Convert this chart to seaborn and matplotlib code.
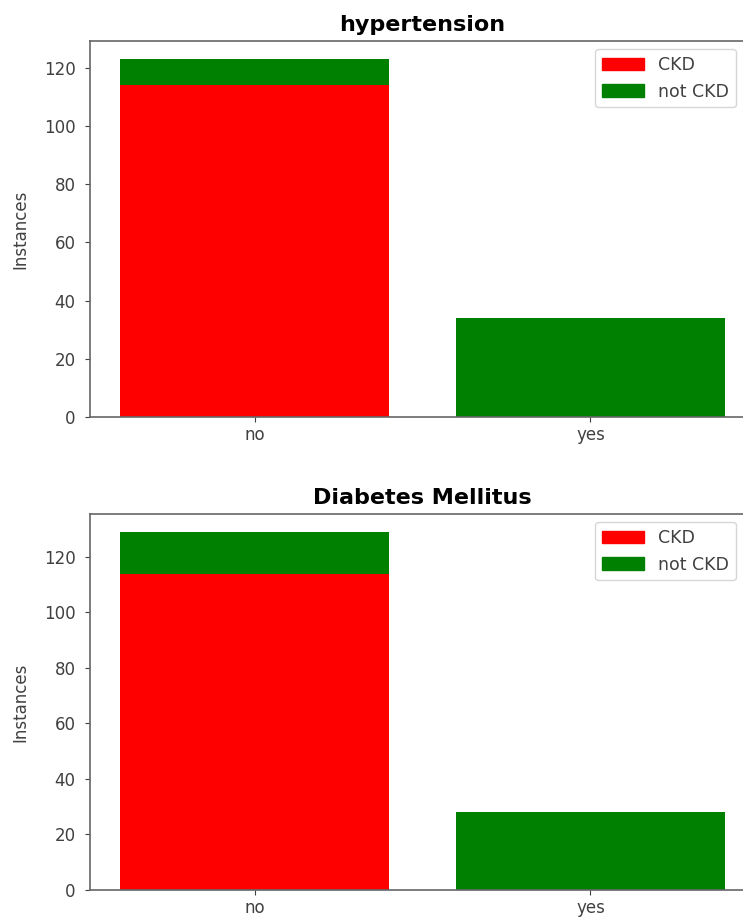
import matplotlib
matplotlib.use("Agg")
import matplotlib.pyplot as plt
import matplotlib.patches as mpatches
import seaborn as sns

# answers for each attribute
answers = ["no", "yes"]

# hypertension counts
htn_ckd = [114, 0]
htn_not_ckd = [9, 34]

# diabetes mellitus counts
dm_ckd = [114, 0]
dm_not_ckd = [15, 28]

panels = [
    ("hypertension", htn_ckd, htn_not_ckd),
    ("Diabetes Mellitus", dm_ckd, dm_not_ckd),
]

plt.rcParams['font.family'] = ['DejaVu Sans']

fig = plt.figure(figsize=(7.43, 9.19), dpi=100)
positions = [
    [90 / 743, 1 - 417 / 919, 665 / 743, 376 / 919],
    [90 / 743, 1 - 890 / 919, 665 / 743, 376 / 919],
]

for (title, ckd, not_ckd), pos in zip(panels, positions):
    ax = fig.add_axes(pos)
    totals = [a + b for a, b in zip(ckd, not_ckd)]
    # green (not CKD) stacked on red (CKD): draw totals first, then CKD over it
    sns.barplot(x=answers, y=totals, color="green", saturation=1, width=0.8, ax=ax)
    sns.barplot(x=answers, y=ckd, color="red", saturation=1, width=0.8, ax=ax)
    ax.set_xlim(-0.49, 1.49)
    ax.set_yticks(range(0, 121, 20))
    ax.set_ylabel("Instances", fontsize=12, color="0.25", labelpad=10)
    ax.set_title(title, fontsize=16, fontweight="bold", pad=7)
    ax.tick_params(labelsize=12, colors="0.25")
    ax.tick_params(axis="y", pad=7)
    ax.tick_params(axis="x", pad=3)
    ax.spines["right"].set_visible(False)
    for sp in ax.spines.values():
        sp.set_color("0.4")
        sp.set_linewidth(1.2)
    handles = [mpatches.Patch(color="red", label="CKD"),
               mpatches.Patch(color="green", label="not CKD")]
    ax.legend(handles=handles, loc="upper right", fontsize=12.5,
              bbox_to_anchor=(0.971, 0.979), borderaxespad=0,
              handlelength=2.4, labelcolor="0.25")

fig.savefig("out.png", dpi=100)
